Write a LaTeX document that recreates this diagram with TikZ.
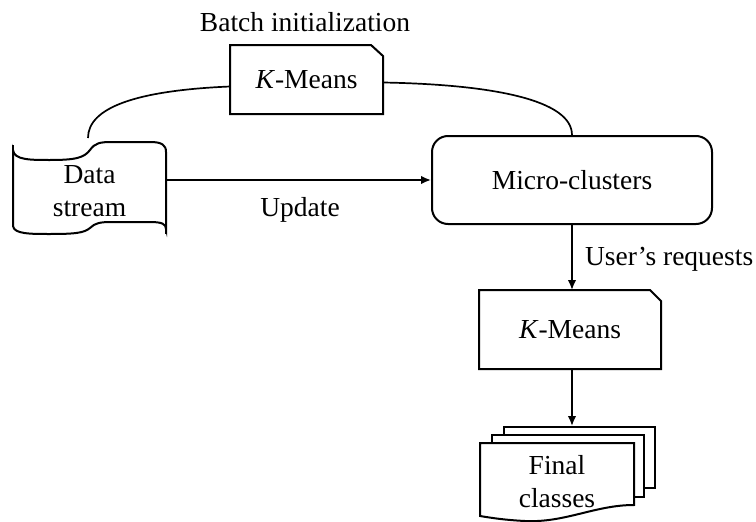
\documentclass[tikz,border=0pt]{standalone}
\usepackage{fontspec}
\setmainfont{Liberation Serif}
\usetikzlibrary{arrows.meta}
\begin{document}
\begin{tikzpicture}[x=1pt,y=-1pt,line width=2pt,line join=miter,
  txt/.style={font=\fontsize{27.5}{33}\selectfont,inner sep=0pt,align=center},
  conn/.style={line width=1.7pt},
  arr/.style={conn,-{Latex[length=10pt,width=8.5pt]}}]
\useasboundingbox (0,0) rectangle (756,522);

% Batch K-Means card
\node[txt,minimum width=151pt,minimum height=67pt] (km1) at (306.5,79.5) {\textit{K}-Means};
\draw (km1.north west) -- ([xshift=-12pt]km1.north east) -- ([yshift=-11pt]km1.north east)
  -- (km1.south east) -- (km1.south west) -- cycle;
\node[txt] (batch) at (305,22) {Batch initialization};

% Data stream tape
\draw (13,150) .. controls (14,160) and (30,160) .. (50,160)
  .. controls (75,160) and (84,158) .. (90,150)
  .. controls (95,143) and (100,142) .. (112,142) -- (150,142)
  .. controls (162,142) and (166,145) .. (166,152) -- (166,229)
  .. controls (166,224) and (162,222) .. (150,222) -- (112,222)
  .. controls (100,222) and (95,223) .. (90,228)
  .. controls (84,233) and (75,234) .. (50,234)
  .. controls (30,234) and (14,234) .. (13,226) -- cycle;
\draw (13,145) -- (13,150);
\draw (166,229) -- (166,234);
\node[txt,minimum width=153pt,minimum height=80pt] (ds) at (89.5,191) {Data\\stream};
\coordinate (dstop) at (88,138);

% Micro-clusters
\node[txt,draw,rounded corners=16pt,minimum width=280pt,minimum height=88pt] (mc) at (572,180) {Micro-clusters};

% second K-Means card
\node[txt,minimum width=180pt,minimum height=77pt] (km2) at (570,329.5) {\textit{K}-Means};
\draw (km2.north west) -- ([xshift=-11pt]km2.north east) -- ([yshift=-11pt]km2.north east)
  -- (km2.south east) -- (km2.south west) -- cycle;

% Final classes (multi-document)
\node[minimum width=151pt,minimum height=61pt,inner sep=0pt] (fcback) at (579.5,457.5) {};
\draw[fill=white] (504,427) rectangle (655,488);
\draw[fill=white] (492,435) rectangle (644,497);
\draw[fill=white] (480,443) -- (634,443) -- (634,505)
  .. controls (595,505) and (565,523) .. (525,521)
  .. controls (505,520) and (492,518) .. (480,516) -- cycle;
\node[txt] (fc) at (557,481.5) {Final\\classes};

% connectors
\draw[conn] ([yshift=-7pt]km1.west) .. controls +(-95,4) and +(0,-30) .. (dstop);
\draw[conn] ([yshift=-3pt]km1.east) .. controls +(110,2) and +(0,-35) .. (mc.north);
\draw[arr] (ds.east |- mc.west) -- (mc.west);
\node[txt] (upd) at (300,210) {Update};
\draw[arr] (mc.south) -- (mc.south |- km2.north);
\node[txt,anchor=west] (req) at (584,259) {User’s requests};
\draw[arr] (mc.south |- km2.south) -- (mc.south |- fcback.north);
\end{tikzpicture}
\end{document}
